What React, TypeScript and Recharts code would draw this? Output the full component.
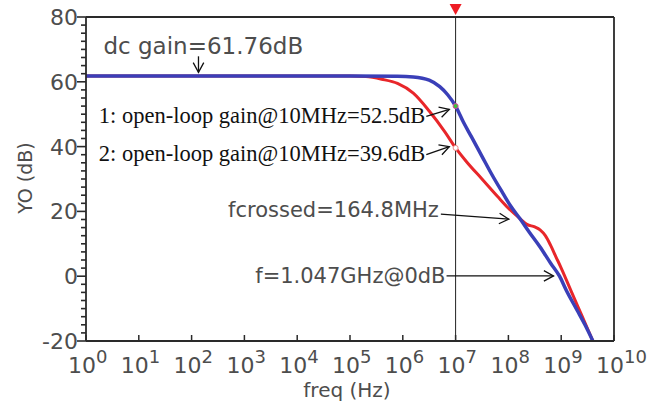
import { LineChart, Line, XAxis, YAxis, ReferenceLine, ReferenceDot } from "recharts";

// decade ticks on the frequency axis
const freqTicks = [1, 1e1, 1e2, 1e3, 1e4, 1e5, 1e6, 1e7, 1e8, 1e9, 1e10];
const freqExponents = ["0", "1", "2", "3", "4", "5", "6", "7", "8", "9", "10"];

// gain ticks: majors every 20 dB, minors every 2.5 dB
const dbTicks = [
  -20, -17.5, -15, -12.5, -10, -7.5, -5, -2.5, 0, 2.5, 5, 7.5, 10, 12.5, 15, 17.5, 20, 22.5, 25, 27.5, 30, 32.5,
  35, 37.5, 40, 42.5, 45, 47.5, 50, 52.5, 55, 57.5, 60, 62.5, 65, 67.5, 70, 72.5, 75, 77.5, 80,
];

// blue trace (case 1)
const blueFreq = [1, 1e5, 7.94e5, 1.58e6, 3.16e6, 5.01e6, 7.08e6, 1e7, 1.41e7, 2e7, 3.16e7, 5.01e7, 7.94e7, 1.12e8, 1.648e8, 2.51e8, 3.98e8, 6.31e8, 9.3e8, 1.26e9, 2e9, 2.82e9, 3.98e9];
const blueDb = [61.76, 61.76, 61.7, 61.5, 60.5, 58.5, 56, 52.5, 47.5, 43, 37, 31, 25.5, 21.5, 17.8, 13.5, 9, 4, 0, -4.5, -10.5, -15, -20];

// red trace (case 2)
const redFreq = [1, 1e5, 2e5, 3.98e5, 7.94e5, 1.58e6, 3.16e6, 6.31e6, 1e7, 1.58e7, 3.16e7, 6.31e7, 1e8, 1.648e8, 2.24e8, 3.16e8, 3.98e8, 5.01e8, 6.31e8, 7.94e8, 1e9, 1.58e9, 2.51e9, 3.98e9];
const redDb = [61.76, 61.76, 61.6, 60.8, 59.5, 56.5, 51, 44.5, 39.6, 35.5, 30, 24.5, 21, 17.8, 16, 15.2, 14.3, 12.5, 9.5, 6, 2.5, -5, -12.5, -20];

// annotations: arrow tip on the curve
const annTexts = ["dc gain=61.76dB", "1: open-loop gain@10MHz=52.5dB", "2: open-loop gain@10MHz=39.6dB", "fcrossed=164.8MHz", "f=1.047GHz@0dB"];
const annFreq = [135, 7.6e6, 7.6e6, 1.02e8, 7.16e8];
const annDb = [62, 51.5, 40, 17.6, 0.1];

const blueData = blueFreq.map((f, i) => ({ f, db: blueDb[i] }));
const redData = redFreq.map((f, i) => ({ f, db: redDb[i] }));

const SANS = "'DejaVu Sans', Verdana, sans-serif";
const SERIF = "'Liberation Serif', 'Times New Roman', serif";
const GRAY = "#4d4d4d";
const FRAME = "#2a2a2a";

// pixel layout of each annotation relative to its arrow tip
const annLayout = [
  { tip: [0, -3], tail: [0, -19], text: [-95, -21], anchor: "start", font: SANS, size: 23, color: GRAY },
  { tip: [0, 0], tail: [-23, 7], text: [-24, 14], anchor: "end", font: SERIF, size: 22.5, color: "#111" },
  { tip: [0, 0], tail: [-23, 8], text: [-24, 14], anchor: "end", font: SERIF, size: 22.5, color: "#111" },
  { tip: [0, 0], tail: [-68, -5], text: [-70, -2], anchor: "end", font: SANS, size: 21, color: GRAY },
  { tip: [0, 0], tail: [-107, 0], text: [-108, 7], anchor: "end", font: SANS, size: 21, color: GRAY },
];

function annShape(i: number) {
  return (props: any) => {
    const { cx, cy } = props;
    const l = annLayout[i];
    const tx = cx + l.tip[0];
    const ty = cy + l.tip[1];
    const sx = cx + l.tail[0];
    const sy = cy + l.tail[1];
    const ang = Math.atan2(ty - sy, tx - sx);
    const len = 11;
    const spread = 0.5;
    const h1x = tx - len * Math.cos(ang - spread);
    const h1y = ty - len * Math.sin(ang - spread);
    const h2x = tx - len * Math.cos(ang + spread);
    const h2y = ty - len * Math.sin(ang + spread);
    return (
      <g>
        <text
          x={cx + l.text[0]}
          y={cy + l.text[1]}
          textAnchor={l.anchor}
          fontFamily={l.font}
          fontSize={l.size}
          fill={l.color}
        >
          {annTexts[i]}
        </text>
        <line x1={sx} y1={sy} x2={tx} y2={ty} stroke="#111" strokeWidth={1.3} />
        <polyline points={`${h1x},${h1y} ${tx},${ty} ${h2x},${h2y}`} fill="none" stroke="#111" strokeWidth={1.3} />
      </g>
    );
  };
}

function XTick(props: any) {
  const { x, y, payload, index } = props;
  return (
    <g>
      <line x1={x} y1={y} x2={x} y2={y - 6} stroke={FRAME} strokeWidth={1.5} />
      <text x={x - 18} y={y + 32} fontFamily={SANS} fontSize={22} fill={GRAY}>
        10
        <tspan dy={-10} fontSize={18}>
          {freqExponents[index] ?? String(Math.round(Math.log10(payload.value)))}
        </tspan>
      </text>
    </g>
  );
}

function YTick(props: any) {
  const { x, y, payload } = props;
  const major = payload.value % 20 === 0;
  return (
    <g>
      <line x1={x - (major ? 9 : 5)} y1={y} x2={x} y2={y} stroke={FRAME} strokeWidth={1.6} />
      {major && (
        <text x={x - 8} y={y} dy="0.36em" textAnchor="end" fontFamily={SANS} fontSize={22} fill={GRAY}>
          {payload.value}
        </text>
      )}
    </g>
  );
}

function Marker(props: any) {
  const { cx, cy } = props;
  return (
    <polygon points={`${cx - 6},${cy - 13} ${cx + 6},${cy - 13} ${cx},${cy - 2}`} fill="#ee1c24" />
  );
}

export default function App() {
  return (
    <div style={{ position: "absolute", left: 0, top: 0, background: "#fff" }}>
      <LineChart width={666} height={406} margin={{ top: 17, right: 52, bottom: 0, left: 0 }} style={{ fontFamily: SANS }}>
        <XAxis
          dataKey="f"
          type="number"
          scale="log"
          domain={[1, 1e10]}
          ticks={freqTicks}
          interval={0}
          allowDataOverflow
          height={65}
          tickSize={0}
          tickMargin={0}
          tickLine={false}
          tick={<XTick />}
          axisLine={{ stroke: FRAME, strokeWidth: 1.8 }}
          label={{
            content: () => (
              <text x={347} y={397} textAnchor="middle" fontFamily={SANS} fontSize={20} fill={GRAY}>
                freq (Hz)
              </text>
            ),
          }}
        />
        <YAxis
          type="number"
          domain={[-20, 80]}
          ticks={dbTicks}
          interval={0}
          allowDataOverflow
          width={86}
          tickSize={0}
          tickMargin={0}
          tickLine={false}
          tick={<YTick />}
          axisLine={{ stroke: FRAME, strokeWidth: 1.8 }}
          label={{
            content: () => (
              <text
                x={25}
                y={178}
                transform="rotate(-90 25 178)"
                textAnchor="middle"
                dy="0.36em"
                fontFamily={SANS}
                fontSize={19}
                fill={GRAY}
              >
                YO (dB)
              </text>
            ),
          }}
        />
        <ReferenceLine y={80} stroke={FRAME} strokeWidth={1.8} />
        <ReferenceLine x={1e10} stroke={FRAME} strokeWidth={1.8} />
        <ReferenceLine x={1e7} stroke="#222" strokeWidth={1} />
        <Line data={redData} dataKey="db" type="monotone" stroke="#e8262a" strokeWidth={3} dot={false} isAnimationActive={false} />
        <Line data={blueData} dataKey="db" type="monotone" stroke="#3a3fb8" strokeWidth={3.5} dot={false} isAnimationActive={false} />
        <ReferenceDot x={1e7} y={80} ifOverflow="visible" shape={<Marker />} />
        <ReferenceDot x={1e7} y={52.5} r={2.5} fill="#3cc43c" stroke="#e040a0" strokeWidth={1} />
        <ReferenceDot x={1e7} y={39.6} r={2.5} fill="#fff" stroke="#e88" strokeWidth={1} />
        {annTexts.map((t, i) => (
          <ReferenceDot key={t} x={annFreq[i]} y={annDb[i]} ifOverflow="visible" shape={annShape(i)} />
        ))}
      </LineChart>
    </div>
  );
}
